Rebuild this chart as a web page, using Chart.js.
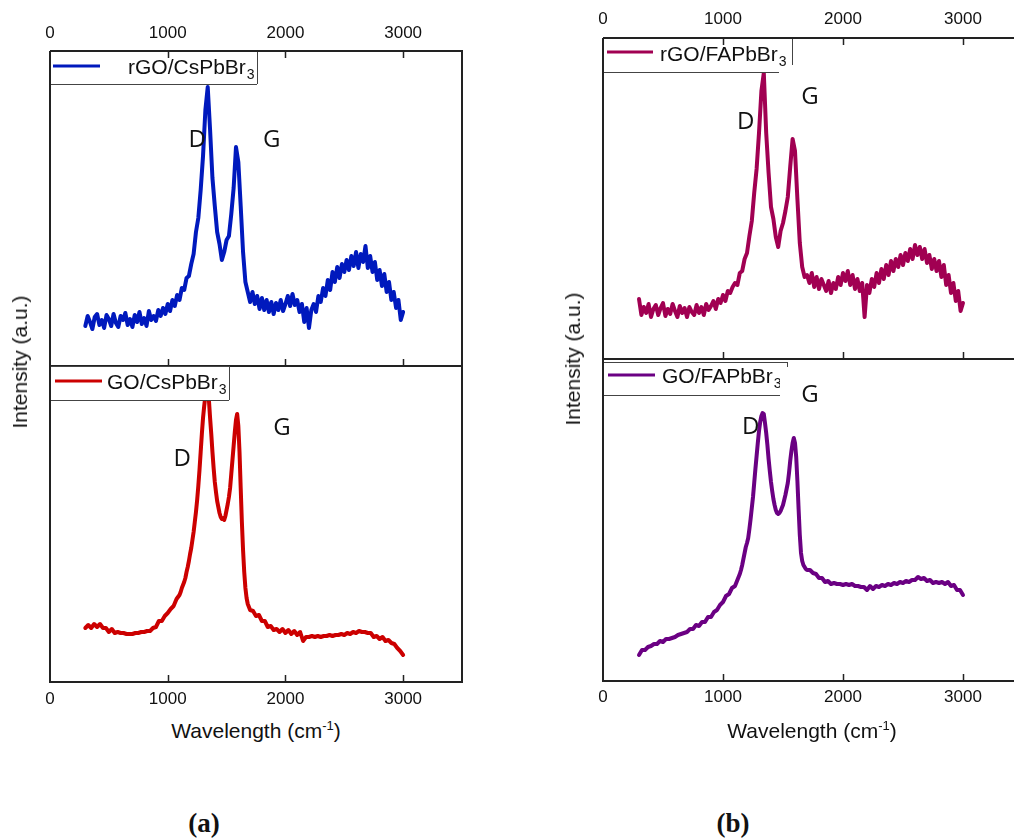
<!DOCTYPE html>
<html>
<head>
<meta charset="utf-8">
<title>Raman spectra</title>
<script src="https://cdn.jsdelivr.net/npm/chart.js@4.4.0/dist/chart.umd.min.js"></script>
<style>
    html, body { margin: 0; padding: 0; background: #fff; overflow: hidden; }
    body { width: 1014px; height: 838px; position: relative; font-family: "Liberation Sans", Arial, sans-serif; color: #111; }
    canvas { position: absolute; }
    .xtitle { position: absolute; font-size: 21px; white-space: nowrap; transform: translate(-50%, -50%); }
    .xtitle sup { font-size: 13px; vertical-align: 8px; line-height: 0; }
    .ytitle { position: absolute; font-size: 21px; white-space: nowrap; transform: translate(-50%, -50%) rotate(-90deg); }
    .panel { position: absolute; font-family: "Liberation Serif", "Times New Roman", serif; font-weight: bold; font-size: 27px; transform: translate(-50%, -50%); }
</style>
</head>
<body>
<canvas id="aTop" width="470" height="372" style="left:0;top:0"></canvas>
<canvas id="aBot" width="470" height="350" style="left:0;top:360px"></canvas>
<canvas id="bTop" width="490" height="365" style="left:540px;top:0"></canvas>
<canvas id="bBot" width="490" height="360" style="left:540px;top:353px"></canvas>

<div class="ytitle" style="left:20px;top:362px">Intensity (a.u.)</div>
<div class="ytitle" style="left:573px;top:359px">Intensity (a.u.)</div>
<div class="xtitle" style="left:256px;top:731px">Wavelength (cm<sup>-1</sup>)</div>
<div class="xtitle" style="left:812px;top:731px">Wavelength (cm<sup>-1</sup>)</div>
<div class="panel" style="left:204px;top:823px">(a)</div>
<div class="panel" style="left:733px;top:823px">(b)</div>

<script>
// Raman shift of the noisy rGO scans (cm-1)
const rgoWavenumbers = [
    300, 320, 340, 360, 380, 400, 420, 440, 460, 480, 500, 520, 540, 560, 580, 600, 620, 640, 660, 680,
    700, 720, 740, 760, 780, 800, 820, 840, 860, 880, 900, 920, 940, 960, 980, 1000, 1020, 1040, 1060, 1080,
    1100, 1120, 1140, 1160, 1180, 1200, 1220, 1240, 1260, 1280, 1300, 1320, 1340, 1360, 1380, 1400, 1420, 1440, 1460, 1480,
    1500, 1520, 1540, 1560, 1580, 1600, 1620, 1640, 1660, 1680, 1700, 1720, 1740, 1760, 1780, 1800, 1820, 1840, 1860, 1880,
    1900, 1920, 1940, 1960, 1980, 2000, 2020, 2040, 2060, 2080, 2100, 2120, 2140, 2160, 2180, 2200, 2220, 2240, 2260, 2280,
    2300, 2320, 2340, 2360, 2380, 2400, 2420, 2440, 2460, 2480, 2500, 2520, 2540, 2560, 2580, 2600, 2620, 2640, 2660, 2680,
    2700, 2720, 2740, 2760, 2780, 2800, 2820, 2840, 2860, 2880, 2900, 2920, 2940, 2960, 2980, 3000
];

// Raman shift of the GO scans (cm-1), denser over the D and G bands
const goWavenumbers = [
    300, 325, 350, 375, 400, 425, 450, 475, 500, 525, 550, 575, 600, 625, 650, 675, 700, 725, 750, 775,
    800, 825, 850, 875, 900, 925, 950, 975, 1000, 1025, 1050, 1075, 1100,
    1110, 1120, 1130, 1140, 1150, 1160, 1170, 1180, 1190, 1200, 1210, 1220, 1230, 1240, 1250, 1260, 1270, 1280,
    1290, 1300, 1310, 1320, 1330, 1340, 1350, 1360, 1370, 1380, 1390, 1400, 1410, 1420, 1430, 1440, 1450, 1460,
    1470, 1480, 1490, 1500, 1510, 1520, 1530, 1540, 1550, 1560, 1570, 1580, 1590, 1600, 1610, 1620, 1630, 1640,
    1650, 1660, 1670, 1680, 1690, 1700,
    1725, 1750, 1775, 1800, 1825, 1850, 1875, 1900, 1925, 1950, 1975, 2000, 2025, 2050, 2075, 2100, 2125, 2150,
    2175, 2200, 2225, 2250, 2275, 2300, 2325, 2350, 2375, 2400, 2425, 2450, 2475, 2500, 2525, 2550, 2575, 2600,
    2625, 2650, 2675, 2700, 2725, 2750, 2775, 2800, 2825, 2850, 2875, 2900, 2925, 2950, 2975, 3000
];

// intensities (a.u.)
const rgoCsPbBr3 = [
    40, 50, 44, 37, 49, 52, 41, 46, 38, 51, 47, 40, 52, 43, 39, 50, 46, 53, 41, 47,
    39, 51, 44, 54, 42, 48, 40, 55, 46, 50, 45, 56, 50, 58, 52, 62, 55, 66, 60, 71,
    66, 78, 76, 88, 90, 102, 112, 134, 148, 176, 210, 256, 279, 236, 188, 160, 134, 122, 106, 114,
    126, 130, 152, 178, 219, 204, 160, 114, 84, 74, 64, 74, 62, 70, 57, 68, 56, 66, 54, 64,
    52, 63, 56, 66, 55, 62, 70, 60, 72, 61, 66, 54, 62, 44, 58, 38, 56, 62, 54, 70,
    64, 78, 70, 86, 76, 94, 84, 99, 88, 102, 94, 106, 96, 110, 100, 114, 98, 112, 104, 120,
    98, 110, 94, 104, 86, 96, 80, 92, 74, 84, 66, 74, 58, 66, 46, 54
];
const goCsPbBr3 = [
    54, 57, 54, 58, 55, 58, 54, 54, 50, 53, 49, 50, 49, 49, 48, 48, 48, 49, 49, 50, 50, 51, 51, 54, 55, 61, 61, 66, 69, 73, 76, 83, 87,
    90, 94, 97, 100, 104, 110, 115, 121, 128, 134, 142, 150, 160, 170, 182, 196, 212, 230, 248, 264,
    276, 286, 294, 296, 282, 264, 248, 230, 214, 200, 190, 181, 175, 169, 165, 163, 164, 162, 166, 172,
    178, 185, 194, 208, 222, 236, 250, 262, 268, 256, 230, 194, 160, 132, 110, 94, 84, 78, 75, 72,
    71, 66, 67, 61, 61, 55, 56, 52, 53, 50, 53, 49, 52, 48, 51, 47, 50, 41, 45, 45, 46, 45, 46, 45, 46, 46,
    47, 46, 47, 47, 48, 47, 49, 48, 50, 49, 51, 50, 50, 49, 49, 45, 46, 43, 45, 41, 42, 39, 38, 34, 31, 27
];
const rgoFAPbBr3 = [
    60, 44, 52, 46, 55, 42, 50, 54, 44, 51, 56, 43, 50, 45, 55, 48, 42, 53, 46, 51,
    42, 52, 47, 44, 54, 46, 52, 44, 55, 49, 53, 58, 50, 60, 56, 64, 58, 68, 66, 72,
    76, 74, 86, 88, 100, 106, 123, 138, 166, 190, 226, 268, 286, 226, 186, 152, 140, 122, 112, 128,
    136, 148, 162, 192, 220, 208, 160, 116, 92, 82, 84, 76, 86, 72, 82, 70, 80, 74, 68, 78,
    66, 76, 70, 82, 74, 86, 78, 88, 74, 84, 70, 80, 68, 76, 42, 74, 66, 80, 72, 86,
    76, 90, 80, 94, 84, 98, 88, 100, 92, 104, 94, 106, 98, 110, 100, 114, 104, 112, 100, 110,
    96, 104, 90, 100, 88, 98, 82, 94, 74, 84, 66, 76, 58, 68, 48, 56
];
const goFAPbBr3 = [
    26, 31, 31, 34, 35, 37, 37, 40, 39, 42, 42, 43, 44, 46, 47, 48, 49, 52, 52, 56, 55, 59, 59, 64, 64, 69, 71, 76, 79, 85, 87, 93, 95,
    98, 101, 104, 107, 111, 116, 122, 128, 134, 138, 143, 152, 162, 173, 184, 198, 212, 225, 238, 250,
    259, 265, 268, 267, 258, 248, 236, 222, 210, 199, 190, 182, 176, 171, 168, 167, 168, 170, 173, 176,
    181, 186, 192, 198, 208, 220, 230, 238, 243, 238, 224, 200, 172, 146, 128, 120, 116, 114, 112, 111,
    111, 108, 107, 103, 103, 99, 100, 97, 98, 97, 97, 96, 97, 96, 97, 95, 95, 94, 94, 91, 95, 92, 95, 94, 96, 95,
    97, 96, 98, 97, 99, 98, 100, 99, 101, 101, 104, 102, 103, 100, 101, 98, 99, 98, 99, 97, 99, 95, 96, 91, 91, 86
];

const xTicks = [0, 1000, 2000, 3000];

// band letters: [text, wavenumber, intensity]
const peaksRgoCs = [['D', 1251, 226], ['G', 1884, 226]];
const peaksGoCs = [['D', 1124, 223], ['G', 1971, 254]];
const peaksRgoFA = [['D', 1189, 237], ['G', 1725, 262]];
const peaksGoFA = [['D', 1231, 254], ['G', 1725, 286]];

const TEXT = '#111';
const SANS = '"Liberation Sans", Arial, sans-serif';

function points(xs, values) {
    return xs.map((x, i) => ({ x: x, y: values[i] }));
}

// legend box, axes frame with inward ticks, and the D / G letters
const spectrumFrame = {
    id: 'spectrumFrame',
    afterDatasetsDraw(chart, args, opts) {
        const ctx = chart.ctx;
        const area = chart.chartArea;
        const xs = chart.scales.x;
        const ys = chart.scales.y;
        const L = area.left, T = area.top;
        const lg = opts.legend;
        const ds = chart.data.datasets[0];

        ctx.save();

        // legend
        ctx.fillStyle = '#fff';
        ctx.fillRect(L + 1, T + lg.top + 1, lg.right, lg.bottom - lg.top - 1);
        ctx.strokeStyle = '#444';
        ctx.lineWidth = 1;
        ctx.beginPath();
        ctx.moveTo(L, T + lg.top + 0.5);
        ctx.lineTo(L + lg.topEnd, T + lg.top + 0.5);
        ctx.moveTo(L + lg.right + 0.5, T + lg.top);
        ctx.lineTo(L + lg.right + 0.5, T + lg.rightEnd);
        ctx.moveTo(L, T + lg.bottom + 0.5);
        ctx.lineTo(L + lg.bottomEnd, T + lg.bottom + 0.5);
        ctx.stroke();

        ctx.strokeStyle = ds.borderColor;
        ctx.lineWidth = 3;
        ctx.beginPath();
        ctx.moveTo(L + lg.lineFrom, T + lg.lineY);
        ctx.lineTo(L + lg.lineTo, T + lg.lineY);
        ctx.stroke();

        ctx.save();
        ctx.beginPath();
        ctx.rect(L, T + lg.top, lg.clip, lg.bottom - lg.top);
        ctx.clip();
        const name = ds.label.slice(0, -1);
        const sub = ds.label.slice(-1);
        ctx.fillStyle = TEXT;
        ctx.textAlign = 'left';
        ctx.textBaseline = 'alphabetic';
        ctx.font = '21px ' + SANS;
        ctx.fillText(name, L + lg.textX, T + lg.baseY);
        const w = ctx.measureText(name).width;
        ctx.font = '14px ' + SANS;
        ctx.fillText(sub, L + lg.textX + w + 1, T + lg.baseY + 5);
        ctx.restore();

        // frame
        ctx.strokeStyle = '#222';
        ctx.lineWidth = 2;
        ctx.beginPath();
        ctx.moveTo(area.left, area.top);
        ctx.lineTo(area.left, area.bottom);
        ctx.lineTo(area.right, area.bottom);
        ctx.lineTo(area.right, area.top);
        if (opts.top) ctx.lineTo(area.left, area.top);
        ctx.stroke();

        // inward ticks
        ctx.lineWidth = 1.5;
        ctx.beginPath();
        xTicks.forEach(v => {
            if (v === 0) return;
            const px = Math.round(xs.getPixelForValue(v)) + 0.5;
            ctx.moveTo(px, area.bottom);
            ctx.lineTo(px, area.bottom - 7);
            if (opts.top) {
                ctx.moveTo(px, area.top);
                ctx.lineTo(px, area.top + 7);
            }
        });
        ctx.stroke();

        // band letters
        ctx.fillStyle = TEXT;
        ctx.font = '24px "Open Sans", "Noto Sans", sans-serif';
        ctx.textAlign = 'center';
        ctx.textBaseline = 'middle';
        opts.peaks.forEach(p => {
            ctx.fillText(p[0], xs.getPixelForValue(p[1]), ys.getPixelForValue(p[2]));
        });

        ctx.restore();
    }
};

function spectrumChart(canvasId, cfg) {
    return new Chart(document.getElementById(canvasId), {
        type: 'line',
        data: {
            datasets: [{
                label: cfg.label,
                data: points(cfg.x, cfg.values),
                borderColor: cfg.color,
                borderWidth: cfg.width,
                borderJoinStyle: 'round',
                borderCapStyle: 'round',
                pointRadius: 0,
                tension: 0,
                fill: false
            }]
        },
        options: {
            responsive: false,
            animation: false,
            events: [],
            layout: { padding: cfg.padding },
            plugins: {
                legend: { display: false },
                tooltip: { enabled: false },
                spectrumFrame: { top: cfg.axis === 'top', legend: cfg.legend, peaks: cfg.peaks }
            },
            scales: {
                x: {
                    type: 'linear',
                    position: cfg.axis,
                    min: 0,
                    max: 3500,
                    afterBuildTicks: scale => { scale.ticks = xTicks.map(v => ({ value: v })); },
                    afterFit: scale => { scale.height = cfg.axisSize; },
                    grid: { display: false, drawTicks: false },
                    border: { display: false },
                    ticks: {
                        color: TEXT,
                        font: { family: SANS, size: 17 },
                        padding: cfg.tickPad,
                        maxRotation: 0,
                        autoSkip: false,
                        callback: v => String(v)
                    }
                },
                y: { display: false, min: 0, max: cfg.yMax }
            }
        },
        plugins: [spectrumFrame]
    });
}

spectrumChart('aTop', {
    label: 'rGO/CsPbBr3', x: rgoWavenumbers, values: rgoCsPbBr3, color: '#0019bd', width: 4, peaks: peaksRgoCs,
    axis: 'top', axisSize: 51, tickPad: 7, yMax: 315,
    padding: { left: 50, right: 8, top: 0, bottom: 6 },
    legend: { top: 0, bottom: 33, right: 207, topEnd: 207, rightEnd: 33, bottomEnd: 207, clip: 207,
              lineFrom: 3, lineTo: 50, lineY: 15, textX: 78, baseY: 23 }
});

spectrumChart('aBot', {
    label: 'GO/CsPbBr3', x: goWavenumbers, values: goCsPbBr3, color: '#cc0000', width: 4, peaks: peaksGoCs,
    axis: 'bottom', axisSize: 28, tickPad: 7, yMax: 316,
    padding: { left: 50, right: 8, top: 6, bottom: 0 },
    legend: { top: 0, bottom: 34, right: 179, topEnd: 179, rightEnd: 34, bottomEnd: 179, clip: 179,
              lineFrom: 5, lineTo: 52, lineY: 15, textX: 57, baseY: 23 }
});

spectrumChart('bTop', {
    label: 'rGO/FAPbBr3', x: rgoWavenumbers, values: rgoFAPbBr3, color: '#a10052', width: 4, peaks: peaksRgoFA,
    axis: 'top', axisSize: 38, tickPad: 8, yMax: 321,
    padding: { left: 63, right: 7, top: 0, bottom: 6 },
    legend: { top: 0, bottom: 34, right: 189, topEnd: 189, rightEnd: 27, bottomEnd: 176, clip: 189,
              lineFrom: 4, lineTo: 50, lineY: 14, textX: 57, baseY: 23 }
});

spectrumChart('bBot', {
    label: 'GO/FAPbBr3', x: goWavenumbers, values: goFAPbBr3, color: '#6b0083', width: 4, peaks: peaksGoFA,
    axis: 'bottom', axisSize: 32, tickPad: 6, yMax: 322,
    padding: { left: 63, right: 7, top: 6, bottom: 0 },
    legend: { top: 3, bottom: 36, right: 184, topEnd: 184, rightEnd: 8, bottomEnd: 177, clip: 177,
              lineFrom: 5, lineTo: 52, lineY: 16, textX: 59, baseY: 24 }
});
</script>
</body>
</html>
